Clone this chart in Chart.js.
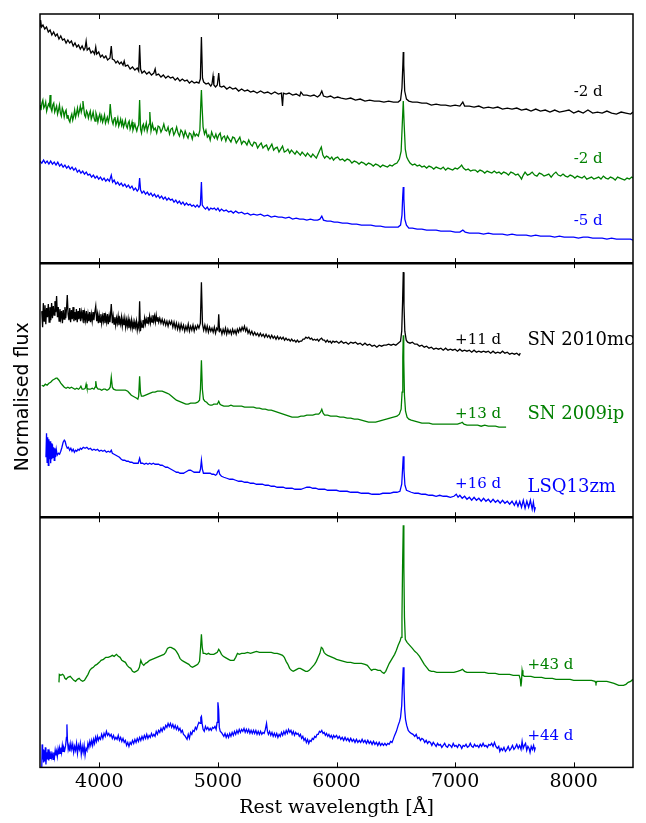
<!DOCTYPE html>
<html>
<head>
<meta charset="utf-8">
<script src="https://cdn.jsdelivr.net/npm/chart.js@4.4.1/dist/chart.umd.min.js"></script>
<style>
  html, body { margin: 0; padding: 0; background: #ffffff; }
  canvas { display: block; }
</style>
</head>
<body>
<canvas id="c" width="646" height="823"></canvas>
<script>
// ---------------- DATA (rest wavelength [Å], normalised flux in arbitrary panel units) ----------------
const xTicks = [4000, 5000, 6000, 7000, 8000];

// Panel 1 (top): pre-maximum spectra
const mc_m2 = [[3500,237],[3505,243],[3512,236],[3525,238],[3540,234],[3555,236],[3570,231],[3585,233],[3600,228],[3615,231],[3630,227],[3645,229],[3660,224],[3675,227],[3690,223],[3705,224],[3720,220],[3735,223],[3750,220],[3765,222],[3780,217],[3795,220],[3810,216],[3825,218],[3840,214],[3855,217],[3870,213],[3880,215],[3889,222],[3898,213],[3915,215],[3930,210],[3945,212],[3960,209],[3970,216],[3978,209],[3995,211],[4010,206],[4025,208],[4040,205],[4055,207],[4070,203],[4090,205],[4101,217],[4110,204],[4125,203],[4140,200],[4155,202],[4170,199],[4185,201],[4200,198],[4210,202],[4220,197],[4240,198],[4260,194],[4280,196],[4300,193],[4320,195],[4332,192],[4340,218],[4348,194],[4360,190],[4380,192],[4400,189],[4420,191],[4440,188],[4460,190],[4471,194],[4480,188],[4500,189],[4520,186],[4540,188],[4560,185],[4580,187],[4600,185],[4620,186],[4640,183],[4660,185],[4680,182],[4700,184],[4720,182],[4740,183],[4760,180],[4780,182],[4800,180],[4820,181],[4840,180],[4852,184],[4861,226],[4870,185],[4880,181],[4900,179],[4920,180],[4940,177],[4950,179],[4959,187],[4966,178],[4980,176],[4995,178],[5007,190],[5016,177],[5030,176],[5050,177],[5075,174],[5100,176],[5125,174],[5150,175],[5175,172],[5200,174],[5225,172],[5250,173],[5275,171],[5300,172],[5330,170],[5360,172],[5390,170],[5420,171],[5450,169],[5480,171],[5510,169],[5535,170],[5545,157],[5552,170],[5575,169],[5600,170],[5630,168],[5660,169],[5690,167],[5700,171],[5720,168],[5750,168],[5780,167],[5810,168],[5840,166],[5860,168],[5876,172],[5890,167],[5920,166],[5950,167],[5980,165],[6010,166],[6040,165],[6080,164],[6120,165],[6160,163],[6200,164],[6240,162],[6280,163],[6320,162],[6360,162],[6400,161],[6440,162],[6480,161],[6520,161],[6540,163],[6552,175],[6560,200],[6563,211],[6567,198],[6575,172],[6590,164],[6610,162],[6640,161],[6680,161],[6720,160],[6760,160],[6800,158],[6840,159],[6880,158],[6920,158],[6960,157],[7000,158],[7040,157],[7065,161],[7080,157],[7120,157],[7160,156],[7200,157],[7240,155],[7280,156],[7320,155],[7360,156],[7400,154],[7440,155],[7480,154],[7520,155],[7560,153],[7600,154],[7640,152],[7680,154],[7720,152],[7760,153],[7800,151],[7840,153],[7880,151],[7920,152],[7960,153],[8000,150],[8040,152],[8080,150],[8120,153],[8160,150],[8200,151],[8240,150],[8280,152],[8320,150],[8360,149],[8400,151],[8440,150],[8480,149],[8500,151]];

const ip_m2 = [[3500,158],[3508,153],[3516,160],[3524,163],[3532,155],[3540,157],[3548,161],[3556,152],[3564,156],[3572,159],[3580,157],[3585,168],[3592,155],[3600,152],[3608,158],[3616,160],[3624,151],[3632,154],[3640,157],[3648,149],[3656,153],[3664,158],[3672,150],[3680,147],[3688,155],[3696,152],[3704,146],[3712,151],[3720,153],[3728,145],[3736,148],[3744,143],[3752,141],[3760,146],[3768,149],[3776,143],[3784,147],[3792,153],[3800,146],[3808,150],[3816,155],[3824,148],[3832,152],[3840,157],[3848,151],[3856,155],[3862,162],[3868,156],[3876,148],[3884,146],[3892,152],[3900,150],[3908,145],[3916,149],[3924,152],[3932,144],[3940,147],[3948,151],[3956,145],[3964,142],[3972,150],[3980,147],[3988,141],[3996,146],[4004,149],[4012,143],[4020,147],[4028,141],[4036,144],[4044,148],[4052,140],[4060,143],[4068,146],[4076,141],[4084,145],[4092,159],[4100,148],[4108,142],[4116,139],[4124,144],[4132,146],[4140,138],[4148,141],[4156,145],[4164,137],[4172,140],[4180,144],[4188,138],[4196,142],[4204,136],[4212,139],[4220,143],[4228,137],[4236,135],[4244,140],[4252,142],[4260,134],[4268,137],[4276,141],[4284,133],[4292,136],[4300,139],[4308,135],[4316,132],[4324,136],[4332,138],[4340,163],[4348,134],[4356,130],[4364,137],[4372,139],[4380,133],[4388,136],[4396,140],[4404,132],[4412,136],[4420,139],[4426,151],[4436,132],[4448,139],[4460,133],[4472,135],[4484,130],[4496,137],[4508,136],[4520,131],[4532,134],[4544,139],[4556,133],[4568,132],[4580,136],[4592,129],[4604,134],[4616,135],[4628,128],[4640,131],[4652,136],[4664,130],[4676,127],[4688,133],[4700,131],[4712,126],[4724,132],[4736,128],[4748,125],[4760,130],[4772,129],[4784,124],[4796,131],[4808,127],[4820,129],[4835,127],[4848,133],[4856,160],[4861,173],[4866,158],[4875,136],[4887,129],[4899,133],[4911,126],[4923,128],[4935,123],[4947,131],[4959,127],[4971,125],[4983,129],[4995,124],[5007,128],[5019,130],[5031,123],[5043,126],[5055,127],[5067,122],[5080,127],[5095,124],[5110,121],[5125,126],[5140,125],[5155,120],[5170,123],[5185,126],[5200,119],[5215,122],[5230,121],[5245,118],[5260,123],[5275,119],[5290,117],[5305,121],[5320,120],[5335,115],[5350,118],[5365,120],[5380,115],[5395,117],[5410,118],[5425,113],[5440,116],[5455,119],[5470,113],[5485,115],[5500,116],[5515,111],[5530,114],[5545,117],[5560,111],[5575,112],[5590,114],[5605,110],[5620,113],[5635,111],[5650,109],[5665,112],[5680,110],[5695,108],[5710,111],[5725,109],[5740,107],[5755,110],[5770,108],[5785,106],[5800,109],[5815,107],[5830,105],[5845,109],[5860,113],[5872,116],[5885,108],[5900,105],[5915,107],[5930,106],[5945,104],[5960,106],[5975,103],[5990,105],[6010,106],[6030,103],[6050,104],[6070,102],[6090,104],[6110,103],[6130,100],[6150,102],[6170,101],[6190,99],[6210,101],[6230,100],[6250,98],[6270,100],[6290,99],[6310,97],[6330,99],[6350,98],[6370,96],[6390,98],[6410,97],[6430,96],[6450,98],[6470,97],[6490,99],[6510,100],[6530,104],[6545,112],[6555,140],[6563,162],[6570,140],[6580,114],[6592,106],[6605,103],[6620,100],[6640,98],[6660,99],[6680,97],[6700,98],[6720,96],[6740,97],[6760,95],[6780,97],[6800,96],[6820,94],[6840,96],[6860,95],[6880,94],[6900,96],[6920,93],[6940,95],[6960,94],[6980,93],[7000,95],[7020,94],[7040,96],[7055,98],[7070,95],[7090,93],[7110,94],[7130,92],[7150,93],[7170,93],[7190,91],[7210,93],[7230,92],[7250,90],[7270,92],[7290,91],[7310,90],[7330,92],[7350,90],[7370,91],[7390,89],[7410,91],[7430,90],[7450,88],[7470,91],[7490,90],[7510,88],[7530,89],[7550,86],[7560,84],[7575,88],[7590,91],[7610,88],[7630,89],[7650,91],[7670,88],[7690,87],[7710,90],[7730,89],[7750,87],[7770,88],[7790,89],[7810,86],[7830,89],[7850,91],[7870,88],[7890,87],[7910,89],[7930,87],[7950,86],[7970,88],[7990,87],[8010,85],[8030,87],[8050,86],[8070,85],[8090,87],[8110,84],[8130,85],[8150,86],[8170,84],[8190,85],[8210,86],[8230,84],[8250,87],[8270,85],[8290,84],[8310,86],[8330,85],[8350,83],[8370,86],[8390,85],[8410,84],[8430,83],[8450,85],[8470,84],[8490,86],[8500,85]];

const lsq_m5 = [[3500,102],[3515,100],[3530,103],[3545,100],[3560,102],[3575,99],[3590,102],[3605,99],[3620,101],[3635,98],[3650,101],[3665,97],[3680,99],[3695,96],[3710,98],[3725,95],[3740,97],[3755,94],[3770,96],[3785,93],[3800,95],[3815,91],[3830,93],[3845,90],[3860,92],[3875,89],[3890,91],[3905,88],[3920,89],[3935,86],[3950,88],[3965,85],[3980,87],[3995,84],[4010,86],[4025,83],[4040,85],[4055,82],[4070,84],[4085,82],[4101,88],[4112,81],[4125,83],[4140,79],[4155,81],[4170,78],[4185,80],[4200,77],[4215,79],[4230,76],[4245,78],[4260,75],[4275,77],[4290,73],[4305,75],[4320,72],[4332,74],[4340,85],[4348,73],[4360,70],[4375,72],[4390,69],[4405,71],[4420,68],[4435,70],[4450,67],[4465,69],[4480,66],[4495,68],[4510,65],[4525,67],[4540,64],[4555,66],[4570,63],[4585,65],[4600,63],[4615,64],[4630,61],[4645,63],[4660,60],[4675,62],[4690,59],[4705,61],[4720,58],[4735,60],[4750,58],[4765,59],[4780,57],[4795,58],[4810,56],[4825,58],[4840,56],[4852,58],[4861,81],[4868,58],[4880,56],[4895,54],[4910,56],[4925,53],[4940,55],[4955,54],[4970,55],[4985,53],[5000,55],[5015,52],[5030,54],[5050,52],[5070,53],[5090,51],[5110,52],[5130,50],[5150,52],[5175,50],[5200,51],[5225,49],[5250,50],[5275,48],[5300,49],[5330,48],[5360,49],[5390,47],[5420,48],[5450,46],[5480,47],[5510,46],[5540,46],[5570,45],[5600,46],[5630,44],[5660,45],[5690,44],[5720,44],[5750,43],[5780,44],[5810,43],[5840,43],[5860,44],[5876,47],[5890,43],[5920,42],[5950,42],[5980,41],[6010,41],[6050,40],[6090,40],[6130,39],[6170,39],[6210,38],[6250,38],[6290,38],[6330,37],[6370,37],[6410,36],[6450,36],[6490,36],[6520,36],[6540,38],[6552,48],[6558,66],[6563,76],[6568,64],[6576,44],[6590,38],[6610,35],[6640,35],[6680,34],[6720,34],[6760,33],[6800,33],[6840,33],[6880,32],[6920,32],[6960,32],[7000,31],[7040,31],[7065,33],[7085,31],[7120,30],[7160,30],[7200,30],[7240,29],[7280,30],[7320,29],[7360,29],[7400,29],[7440,28],[7480,29],[7520,28],[7560,28],[7600,28],[7640,27],[7680,28],[7720,27],[7760,27],[7800,27],[7840,26],[7880,27],[7920,26],[7960,26],[8000,26],[8040,25],[8080,26],[8120,26],[8160,25],[8200,25],[8240,25],[8280,24],[8320,25],[8360,24],[8400,24],[8440,24],[8480,24],[8500,23]];

// Panel 2 (middle): +11 d / +13 d / +16 d
const mc_p11 = [[3515,206],[3522,190],[3528,214],[3535,196],[3542,212],[3549,193],[3556,209],[3563,200],[3570,213],[3577,195],[3584,210],[3591,197],[3598,214],[3605,199],[3612,211],[3619,202],[3626,216],[3633,205],[3640,221],[3647,200],[3654,210],[3661,196],[3668,208],[3675,199],[3682,206],[3689,194],[3696,207],[3703,198],[3710,210],[3717,199],[3724,209],[3730,222],[3737,203],[3744,197],[3751,209],[3758,195],[3765,207],[3772,198],[3779,210],[3786,196],[3793,205],[3800,197],[3807,208],[3814,195],[3821,206],[3828,198],[3835,209],[3842,196],[3849,205],[3856,199],[3863,207],[3870,194],[3877,204],[3884,197],[3891,206],[3898,194],[3905,203],[3912,196],[3919,205],[3926,195],[3933,203],[3940,196],[3947,205],[3954,197],[3961,204],[3970,211],[3978,196],[3985,203],[3992,194],[3999,202],[4006,195],[4013,203],[4020,194],[4027,201],[4034,196],[4041,204],[4048,194],[4055,201],[4062,195],[4069,203],[4076,193],[4083,201],[4090,195],[4101,213],[4110,194],[4117,201],[4124,193],[4131,200],[4138,192],[4145,199],[4152,194],[4159,201],[4166,192],[4173,198],[4180,193],[4187,200],[4194,191],[4201,198],[4208,192],[4215,199],[4222,190],[4229,197],[4236,191],[4243,198],[4250,189],[4257,196],[4264,190],[4271,197],[4278,189],[4285,195],[4292,188],[4299,195],[4306,190],[4313,196],[4320,187],[4327,193],[4334,189],[4340,216],[4347,186],[4354,194],[4361,190],[4368,197],[4375,192],[4382,199],[4389,193],[4396,198],[4403,194],[4410,200],[4417,195],[4424,201],[4431,194],[4438,199],[4445,195],[4452,202],[4459,196],[4466,201],[4473,195],[4480,202],[4487,196],[4494,200],[4501,195],[4510,199],[4520,194],[4530,198],[4540,193],[4550,197],[4560,192],[4570,196],[4580,191],[4590,196],[4600,193],[4610,196],[4620,190],[4630,195],[4640,189],[4650,194],[4660,188],[4670,193],[4680,187],[4690,193],[4700,188],[4710,192],[4720,186],[4730,191],[4740,187],[4750,193],[4760,186],[4770,191],[4780,187],[4790,192],[4800,186],[4810,191],[4820,188],[4830,192],[4840,189],[4852,194],[4861,235],[4870,193],[4880,187],[4890,192],[4900,186],[4910,191],[4920,185],[4930,190],[4940,186],[4950,189],[4960,185],[4970,190],[4980,184],[4990,189],[5000,187],[5007,203],[5014,186],[5024,188],[5034,183],[5044,188],[5054,184],[5064,189],[5074,183],[5084,188],[5094,184],[5104,187],[5114,183],[5124,188],[5134,184],[5144,187],[5154,183],[5164,188],[5174,185],[5184,189],[5194,186],[5204,190],[5214,187],[5224,191],[5234,186],[5244,189],[5254,184],[5264,187],[5274,183],[5286,186],[5298,182],[5310,185],[5322,182],[5334,184],[5346,181],[5358,184],[5370,181],[5382,183],[5394,180],[5406,183],[5418,180],[5430,182],[5442,179],[5454,182],[5466,179],[5478,181],[5490,178],[5502,181],[5514,178],[5526,180],[5538,178],[5550,180],[5562,177],[5574,179],[5586,177],[5598,178],[5610,176],[5622,178],[5634,176],[5646,177],[5658,175],[5670,177],[5682,175],[5694,176],[5706,176],[5718,178],[5730,178],[5742,180],[5754,179],[5766,180],[5778,178],[5790,179],[5802,177],[5814,178],[5826,177],[5838,178],[5850,176],[5862,178],[5874,179],[5886,177],[5898,177],[5910,175],[5922,177],[5934,175],[5946,176],[5958,174],[5970,176],[5985,175],[6000,176],[6020,174],[6040,176],[6060,174],[6080,175],[6100,173],[6120,175],[6140,174],[6160,175],[6180,173],[6200,174],[6220,172],[6240,174],[6260,172],[6280,173],[6300,171],[6320,172],[6340,170],[6360,172],[6380,171],[6400,172],[6420,172],[6440,173],[6460,172],[6480,173],[6500,172],[6520,174],[6540,176],[6550,186],[6557,215],[6563,245],[6569,212],[6576,186],[6588,177],[6600,175],[6620,174],[6640,175],[6660,173],[6680,173],[6700,171],[6720,172],[6740,170],[6760,171],[6780,169],[6800,170],[6820,168],[6840,169],[6860,168],[6880,169],[6900,167],[6920,169],[6940,167],[6960,168],[6980,167],[7000,168],[7020,166],[7040,168],[7060,166],[7080,167],[7100,166],[7120,167],[7140,165],[7160,167],[7180,165],[7200,166],[7220,165],[7240,166],[7260,165],[7280,166],[7300,164],[7320,166],[7340,164],[7360,165],[7380,164],[7400,166],[7420,164],[7440,165],[7460,163],[7480,164],[7500,163],[7520,164],[7540,162],[7550,164]];

const ip_p13 = [[3515,132],[3530,131],[3545,133],[3560,132],[3575,134],[3590,135],[3605,137],[3620,138],[3635,139],[3645,139],[3660,137],[3675,134],[3690,132],[3705,130],[3720,129],[3735,130],[3750,129],[3765,130],[3780,129],[3795,128],[3810,129],[3825,128],[3835,129],[3845,131],[3855,128],[3870,128],[3882,129],[3889,133],[3896,129],[3910,128],[3925,128],[3940,129],[3955,128],[3964,130],[3970,136],[3977,130],[3990,128],[4005,128],[4020,127],[4035,128],[4050,128],[4065,127],[4080,128],[4092,130],[4101,140],[4110,130],[4120,128],[4140,127],[4160,127],[4180,127],[4200,127],[4220,127],[4240,126],[4255,124],[4270,122],[4285,121],[4300,120],[4315,119],[4325,118],[4332,121],[4340,141],[4347,125],[4355,121],[4370,121],[4390,122],[4410,123],[4430,124],[4450,125],[4470,125],[4490,126],[4510,126],[4530,126],[4550,125],[4570,124],[4590,123],[4610,121],[4630,119],[4650,117],[4670,116],[4690,115],[4710,114],[4730,113],[4750,113],[4770,114],[4790,114],[4810,114],[4830,115],[4845,117],[4853,128],[4861,157],[4869,128],[4878,118],[4890,116],[4905,115],[4920,113],[4935,112],[4950,112],[4965,113],[4980,113],[4995,113],[5007,116],[5018,113],[5030,112],[5050,111],[5070,111],[5090,111],[5110,112],[5130,111],[5150,111],[5175,111],[5200,111],[5225,110],[5250,110],[5275,110],[5300,110],[5325,109],[5350,109],[5375,108],[5400,108],[5425,107],[5450,107],[5475,106],[5500,105],[5525,104],[5550,103],[5575,102],[5600,101],[5625,100],[5650,100],[5675,100],[5700,101],[5725,101],[5750,102],[5775,102],[5800,102],[5825,103],[5850,103],[5865,105],[5876,108],[5887,104],[5900,102],[5925,102],[5950,101],[5975,101],[6000,101],[6030,100],[6060,100],[6090,99],[6120,99],[6150,98],[6180,98],[6210,97],[6240,96],[6270,95],[6300,95],[6330,95],[6360,96],[6390,97],[6420,98],[6450,99],[6480,100],[6510,101],[6530,103],[6545,108],[6553,125],[6559,160],[6563,182],[6567,158],[6573,122],[6582,106],[6595,100],[6610,98],[6630,97],[6660,96],[6690,95],[6720,94],[6750,94],[6780,94],[6810,93],[6840,93],[6870,93],[6900,93],[6930,93],[6960,93],[6990,93],[7020,93],[7045,94],[7060,95],[7075,93],[7100,92],[7130,92],[7160,92],[7190,92],[7220,91],[7250,92],[7280,91],[7310,91],[7340,91],[7370,90],[7400,90],[7430,90]];

const lsq_p16 = [[3550,60],[3555,84],[3560,55],[3565,80],[3570,52],[3575,78],[3580,58],[3585,76],[3590,54],[3595,74],[3600,58],[3605,73],[3610,60],[3615,70],[3620,57],[3625,69],[3630,60],[3637,68],[3645,62],[3655,64],[3665,63],[3675,66],[3685,70],[3695,75],[3705,77],[3712,76],[3720,72],[3730,69],[3740,70],[3750,67],[3760,69],[3770,66],[3780,68],[3790,65],[3800,67],[3810,66],[3820,68],[3830,67],[3840,69],[3850,68],[3865,70],[3880,69],[3895,70],[3910,68],[3925,69],[3940,67],[3955,68],[3970,67],[3985,68],[4000,66],[4015,67],[4030,66],[4045,67],[4060,65],[4075,66],[4090,65],[4101,67],[4110,64],[4125,63],[4140,62],[4155,61],[4170,60],[4185,58],[4200,57],[4215,57],[4230,56],[4245,56],[4260,55],[4275,55],[4290,54],[4305,54],[4318,54],[4328,54],[4340,59],[4350,54],[4365,54],[4380,53],[4395,54],[4410,53],[4425,54],[4440,53],[4455,54],[4470,53],[4485,53],[4500,53],[4515,52],[4530,52],[4545,51],[4560,50],[4575,50],[4590,49],[4605,48],[4620,47],[4635,46],[4650,45],[4665,45],[4680,44],[4695,44],[4710,44],[4725,45],[4740,46],[4755,47],[4770,47],[4785,46],[4800,45],[4815,45],[4830,45],[4845,45],[4853,48],[4861,57],[4869,48],[4878,44],[4890,44],[4905,44],[4920,44],[4935,44],[4950,43],[4965,43],[4980,42],[4990,43],[5000,46],[5007,47],[5015,43],[5030,41],[5050,40],[5075,39],[5100,38],[5125,38],[5150,37],[5175,36],[5200,36],[5225,35],[5250,35],[5275,34],[5300,34],[5325,33],[5350,33],[5375,33],[5400,32],[5425,32],[5450,31],[5475,31],[5500,30],[5525,30],[5550,30],[5575,29],[5600,29],[5625,29],[5650,28],[5675,28],[5700,28],[5725,29],[5750,30],[5775,30],[5800,29],[5825,29],[5850,28],[5875,28],[5900,28],[5925,27],[5950,27],[5975,27],[6000,27],[6030,26],[6060,26],[6090,26],[6120,25],[6150,25],[6180,25],[6210,24],[6240,24],[6270,24],[6300,23],[6330,23],[6360,23],[6390,24],[6420,24],[6450,24],[6480,25],[6510,25],[6535,26],[6550,33],[6557,48],[6563,61],[6569,47],[6577,32],[6590,27],[6610,26],[6630,25],[6660,24],[6690,24],[6720,23],[6750,23],[6780,22],[6810,22],[6840,21],[6870,22],[6900,21],[6930,21],[6960,20],[6990,21],[7010,23],[7025,20],[7040,22],[7060,19],[7080,21],[7100,18],[7120,20],[7140,17],[7160,20],[7180,17],[7200,19],[7220,16],[7240,19],[7260,16],[7280,18],[7300,15],[7320,18],[7340,15],[7360,17],[7380,14],[7400,17],[7420,14],[7440,16],[7460,13],[7480,16],[7500,12],[7515,16],[7530,11],[7545,16],[7560,10],[7575,17],[7590,9],[7605,16],[7620,10],[7635,17],[7650,8],[7660,15],[7670,7],[7677,10]];

// Panel 3 (bottom): +43 d / +44 d
const ip_p43 = [[3660,85],[3663,93],[3675,92],[3690,93],[3700,92],[3710,89],[3720,88],[3735,90],[3755,91],[3770,89],[3785,87],[3800,86],[3815,88],[3830,89],[3845,87],[3860,86],[3875,87],[3890,90],[3905,93],[3920,97],[3935,99],[3950,100],[3965,102],[3980,103],[4000,105],[4015,107],[4035,108],[4055,110],[4075,110],[4095,111],[4110,112],[4125,111],[4145,113],[4160,111],[4175,110],[4190,107],[4205,106],[4220,105],[4235,102],[4250,100],[4265,99],[4280,96],[4295,95],[4310,96],[4325,97],[4338,100],[4350,107],[4360,104],[4375,102],[4390,104],[4405,105],[4425,107],[4445,108],[4465,109],[4485,110],[4505,111],[4525,112],[4545,113],[4560,115],[4575,119],[4590,120],[4605,120],[4620,119],[4635,118],[4650,116],[4665,113],[4680,109],[4695,107],[4710,106],[4725,105],[4740,104],[4755,103],[4770,101],[4785,100],[4800,101],[4815,102],[4830,103],[4845,106],[4853,118],[4861,133],[4868,120],[4876,114],[4890,114],[4905,113],[4920,114],[4935,113],[4950,113],[4965,113],[4980,114],[4995,115],[5007,118],[5018,116],[5030,113],[5045,111],[5060,110],[5075,109],[5090,108],[5105,107],[5120,107],[5135,107],[5150,110],[5165,114],[5180,113],[5200,114],[5225,114],[5250,115],[5275,114],[5300,115],[5325,116],[5350,115],[5375,115],[5400,115],[5425,115],[5450,115],[5475,114],[5500,114],[5525,113],[5545,112],[5560,110],[5575,106],[5590,103],[5605,99],[5620,97],[5635,96],[5650,97],[5665,98],[5680,99],[5695,99],[5710,98],[5725,97],[5740,96],[5755,96],[5770,97],[5785,99],[5800,101],[5815,103],[5830,106],[5845,110],[5860,114],[5872,120],[5882,119],[5895,115],[5910,113],[5925,112],[5945,111],[5965,110],[5985,109],[6000,108],[6030,107],[6060,106],[6090,105],[6120,105],[6150,104],[6180,104],[6210,104],[6240,103],[6260,102],[6280,99],[6295,97],[6310,98],[6330,98],[6350,97],[6370,97],[6385,95],[6400,94],[6415,96],[6430,100],[6445,104],[6460,107],[6475,110],[6490,113],[6505,117],[6520,122],[6535,126],[6545,130],[6552,150],[6557,200],[6563,242],[6568,200],[6573,150],[6580,128],[6595,125],[6610,123],[6625,121],[6640,119],[6660,116],[6680,114],[6700,111],[6720,107],[6740,103],[6760,100],[6780,97],[6800,96],[6820,96],[6845,95],[6870,95],[6900,95],[6930,95],[6960,95],[6990,95],[7020,96],[7045,97],[7062,98],[7080,96],[7100,95],[7130,95],[7160,95],[7190,95],[7220,95],[7250,95],[7280,94],[7310,94],[7340,94],[7370,93],[7400,93],[7430,93],[7460,93],[7490,92],[7520,92],[7540,92],[7550,88],[7555,81],[7560,86],[7565,97],[7572,92],[7585,91],[7610,91],[7640,91],[7670,90],[7700,90],[7730,90],[7760,89],[7790,89],[7820,89],[7850,88],[7880,88],[7910,88],[7940,88],[7970,88],[8000,87],[8030,87],[8060,87],[8090,87],[8120,87],[8150,87],[8180,86],[8188,84],[8196,86],[8220,86],[8250,86],[8280,86],[8310,85],[8340,84],[8360,83],[8380,82],[8400,82],[8420,82],[8440,83],[8460,85],[8480,86],[8500,88]];

const lsq_p44 = [[3515,0],[3518,23],[3522,8],[3526,18],[3530,5],[3535,17],[3540,6],[3545,20],[3550,3],[3556,15],[3562,8],[3568,18],[3574,7],[3580,14],[3586,9],[3592,16],[3598,10],[3604,13],[3610,8],[3616,15],[3622,10],[3628,17],[3634,12],[3640,16],[3646,11],[3652,18],[3658,13],[3664,19],[3670,14],[3676,20],[3682,15],[3688,22],[3694,16],[3700,20],[3708,17],[3716,22],[3723,30],[3727,43],[3731,28],[3738,18],[3745,22],[3752,16],[3760,24],[3768,18],[3776,23],[3784,15],[3792,21],[3800,17],[3808,24],[3816,14],[3824,22],[3832,18],[3840,24],[3848,13],[3856,21],[3864,15],[3872,22],[3880,12],[3888,19],[3896,17],[3904,24],[3912,20],[3920,26],[3928,22],[3936,27],[3944,22],[3952,28],[3960,24],[3968,30],[3976,26],[3984,31],[3992,27],[4000,30],[4010,28],[4020,33],[4030,29],[4040,34],[4050,31],[4060,36],[4070,32],[4080,34],[4090,31],[4100,33],[4110,29],[4120,32],[4130,28],[4140,30],[4150,28],[4160,32],[4170,27],[4180,30],[4190,26],[4200,29],[4210,25],[4220,27],[4230,22],[4240,25],[4250,21],[4260,25],[4270,23],[4280,27],[4290,24],[4300,28],[4310,25],[4320,29],[4330,26],[4340,30],[4350,27],[4360,31],[4370,28],[4380,32],[4390,29],[4400,33],[4410,29],[4420,32],[4430,30],[4440,34],[4450,31],[4460,33],[4470,31],[4480,36],[4490,33],[4500,37],[4510,35],[4520,39],[4530,36],[4540,40],[4550,38],[4560,42],[4570,40],[4580,44],[4590,41],[4600,44],[4610,40],[4620,43],[4630,39],[4640,42],[4650,38],[4660,41],[4670,37],[4680,39],[4690,35],[4700,37],[4710,33],[4720,32],[4730,30],[4740,28],[4750,33],[4760,29],[4770,35],[4780,33],[4790,37],[4800,36],[4810,40],[4820,38],[4830,42],[4840,45],[4850,44],[4856,50],[4861,51],[4867,44],[4875,38],[4885,36],[4895,41],[4905,38],[4915,40],[4925,37],[4935,39],[4945,37],[4955,40],[4965,39],[4975,41],[4985,38],[4993,45],[5000,65],[5006,58],[5012,40],[5020,36],[5030,35],[5040,33],[5050,31],[5060,34],[5070,30],[5080,33],[5090,30],[5100,34],[5110,31],[5120,35],[5130,32],[5140,36],[5150,33],[5160,37],[5170,34],[5180,38],[5190,35],[5200,38],[5210,36],[5220,39],[5230,35],[5240,38],[5250,35],[5260,38],[5270,34],[5280,37],[5290,34],[5300,37],[5310,34],[5320,37],[5330,33],[5340,36],[5350,33],[5360,36],[5370,33],[5380,35],[5390,34],[5400,38],[5410,44],[5418,36],[5426,33],[5436,36],[5446,32],[5456,35],[5466,31],[5476,34],[5486,31],[5496,34],[5506,30],[5516,33],[5526,31],[5536,35],[5546,32],[5556,36],[5566,33],[5576,37],[5586,34],[5596,38],[5606,35],[5616,37],[5626,33],[5636,36],[5646,32],[5656,35],[5666,33],[5676,34],[5686,31],[5696,33],[5706,29],[5716,31],[5726,27],[5736,29],[5746,25],[5756,28],[5766,24],[5776,27],[5786,26],[5796,29],[5806,28],[5816,31],[5826,30],[5836,33],[5846,33],[5856,36],[5866,35],[5876,37],[5886,34],[5896,35],[5906,32],[5916,34],[5926,31],[5936,33],[5946,30],[5956,32],[5966,29],[5976,32],[5986,30],[6000,32],[6012,29],[6024,31],[6036,28],[6048,30],[6060,27],[6072,30],[6084,27],[6096,29],[6108,26],[6120,29],[6132,26],[6144,28],[6156,25],[6168,28],[6180,25],[6192,27],[6204,25],[6216,28],[6228,25],[6240,27],[6252,24],[6264,27],[6276,24],[6288,26],[6300,23],[6312,26],[6324,23],[6336,25],[6348,22],[6360,25],[6372,22],[6384,24],[6396,22],[6408,24],[6420,22],[6432,24],[6444,23],[6456,26],[6468,25],[6478,28],[6490,32],[6505,36],[6520,42],[6532,46],[6540,50],[6550,62],[6556,82],[6563,100],[6569,80],[6575,58],[6582,48],[6592,42],[6605,37],[6618,35],[6630,34],[6645,33],[6660,31],[6672,33],[6684,29],[6696,30],[6708,27],[6720,29],[6732,28],[6744,25],[6756,27],[6768,24],[6780,26],[6792,25],[6804,22],[6816,25],[6828,23],[6840,21],[6852,24],[6864,22],[6876,23],[6888,20],[6900,22],[6912,24],[6924,21],[6936,20],[6948,23],[6960,22],[6972,20],[6984,24],[6996,21],[7008,22],[7020,20],[7032,23],[7044,22],[7056,19],[7068,22],[7080,21],[7092,23],[7104,20],[7116,21],[7128,24],[7140,21],[7152,20],[7164,23],[7176,21],[7188,22],[7200,20],[7212,23],[7224,21],[7236,24],[7248,21],[7260,22],[7272,20],[7284,23],[7296,22],[7308,24],[7320,21],[7332,25],[7344,21],[7356,19],[7368,21],[7377,16],[7388,19],[7400,17],[7412,20],[7424,16],[7436,18],[7448,21],[7460,17],[7472,19],[7484,22],[7496,18],[7508,20],[7520,23],[7532,19],[7544,22],[7556,18],[7565,26],[7574,19],[7584,22],[7594,24],[7604,17],[7614,21],[7624,19],[7632,15],[7642,21],[7652,18],[7662,22],[7670,17],[7677,20]];

// Panel flux ranges (arbitrary normalised units)
const panelMax = { y1: 249, y2: 254, y3: 250 };

// Text annotations (epoch + object names)
const notes = [
  { text: '-2 d',      color: '#000000', axis: 'y1', wl: 8000, flux: 171, size: 15 },
  { text: '-2 d',      color: '#008000', axis: 'y1', wl: 8000, flux: 104, size: 15 },
  { text: '-5 d',      color: '#0000ff', axis: 'y1', wl: 8000, flux: 42,  size: 15 },
  { text: '+11 d',     color: '#000000', axis: 'y2', wl: 7000, flux: 177, size: 15 },
  { text: 'SN 2010mc', color: '#000000', axis: 'y2', wl: 7610, flux: 177, size: 18 },
  { text: '+13 d',     color: '#008000', axis: 'y2', wl: 7000, flux: 103, size: 15 },
  { text: 'SN 2009ip', color: '#008000', axis: 'y2', wl: 7610, flux: 103, size: 18 },
  { text: '+16 d',     color: '#0000ff', axis: 'y2', wl: 7000, flux: 33,  size: 15 },
  { text: 'LSQ13zm',   color: '#0000ff', axis: 'y2', wl: 7610, flux: 30,  size: 18 },
  { text: '+43 d',     color: '#008000', axis: 'y3', wl: 7610, flux: 102, size: 15 },
  { text: '+44 d',     color: '#0000ff', axis: 'y3', wl: 7610, flux: 31,  size: 15 }
];
const yLabel = 'Normalised flux';

// ---------------- CHART ----------------
const BLACK = '#000000', GREEN = '#008000', BLUE = '#0000ff';
function ds(data, color, axis, order) {
  return { data, borderColor: color, borderWidth: 1.3, pointRadius: 0, fill: false,
           tension: 0, yAxisID: axis, xAxisID: 'x', order };
}

const framePlugin = {
  id: 'frame',
  afterDatasetsDraw(chart) {
    const { ctx, chartArea: a, scales } = chart;
    const xs = scales.x;
    const panels = [scales.y1, scales.y2, scales.y3];
    ctx.save();
    ctx.strokeStyle = '#000';
    ctx.lineWidth = 1;
    panels.forEach(s => {
      xs.ticks.forEach(t => {
        const px = Math.round(xs.getPixelForValue(t.value)) + 0.5;
        ctx.beginPath();
        ctx.moveTo(px, s.top); ctx.lineTo(px, s.top + 5);
        ctx.moveTo(px, s.bottom); ctx.lineTo(px, s.bottom - 5);
        ctx.stroke();
      });
    });
    ctx.lineWidth = 2.5;
    [panels[0].bottom, panels[1].bottom].forEach(y => {
      ctx.beginPath(); ctx.moveTo(a.left, y); ctx.lineTo(a.right, y); ctx.stroke();
    });
    ctx.lineWidth = 1.5;
    ctx.strokeRect(a.left, a.top, a.right - a.left, a.bottom - a.top);

    // shared y-axis label, centred on the figure's plot column
    ctx.save();
    ctx.fillStyle = '#000';
    ctx.font = '19px "DejaVu Sans"';
    ctx.textAlign = 'center';
    ctx.textBaseline = 'middle';
    ctx.translate(a.left - 17, (a.top + a.bottom) / 2 + 6);
    ctx.rotate(-Math.PI / 2);
    ctx.fillText(yLabel, 0, 0);
    ctx.restore();

    ctx.beginPath();
    ctx.rect(a.left, a.top, a.right - a.left, a.bottom - a.top);
    ctx.clip();
    ctx.textAlign = 'left';
    ctx.textBaseline = 'middle';
    notes.forEach(n => {
      ctx.fillStyle = n.color;
      ctx.font = n.size + 'px "DejaVu Serif"';
      ctx.fillText(n.text, xs.getPixelForValue(n.wl), scales[n.axis].getPixelForValue(n.flux));
    });
    ctx.restore();
  }
};

function yScale(id, weight) {
  return {
    type: 'linear', position: 'left', stack: 'panels', stackWeight: panelMax[id], weight,
    min: 0, max: panelMax[id], display: true,
    ticks: { display: false },
    grid: { display: false, drawTicks: false },
    border: { display: false },
    title: { display: false }
  };
}

new Chart(document.getElementById('c'), {
  type: 'line',
  data: {
    datasets: [
      ds(mc_m2, BLACK, 'y1', 9), ds(ip_m2, GREEN, 'y1', 8), ds(lsq_m5, BLUE, 'y1', 7),
      ds(mc_p11, BLACK, 'y2', 6), ds(ip_p13, GREEN, 'y2', 5), ds(lsq_p16, BLUE, 'y2', 4),
      ds(ip_p43, GREEN, 'y3', 3), ds(lsq_p44, BLUE, 'y3', 2)
    ]
  },
  options: {
    responsive: false,
    animation: false,
    devicePixelRatio: 1,
    layout: { padding: { left: 40, right: 13, top: 14, bottom: 4 } },
    plugins: { legend: { display: false }, tooltip: { enabled: false } },
    scales: {
      x: {
        type: 'linear', min: 3500, max: 8500,
        afterBuildTicks: s => { s.ticks = xTicks.map(v => ({ value: v })); },
        ticks: { color: '#000', font: { family: 'DejaVu Serif', size: 19, lineHeight: 1.2 }, padding: 3,
                 callback: v => String(v), maxRotation: 0, autoSkip: false },
        grid: { display: false, drawTicks: false },
        border: { display: false },
        title: { display: true, text: 'Rest wavelength [Å]', color: '#000',
                 font: { family: 'DejaVu Serif', size: 19, lineHeight: 1.2 }, padding: { top: 0, bottom: 0 } }
      },
      y1: yScale('y1', 3),
      y2: yScale('y2', 2),
      y3: yScale('y3', 1)
    }
  },
  plugins: [framePlugin]
});
</script>
</body>
</html>
